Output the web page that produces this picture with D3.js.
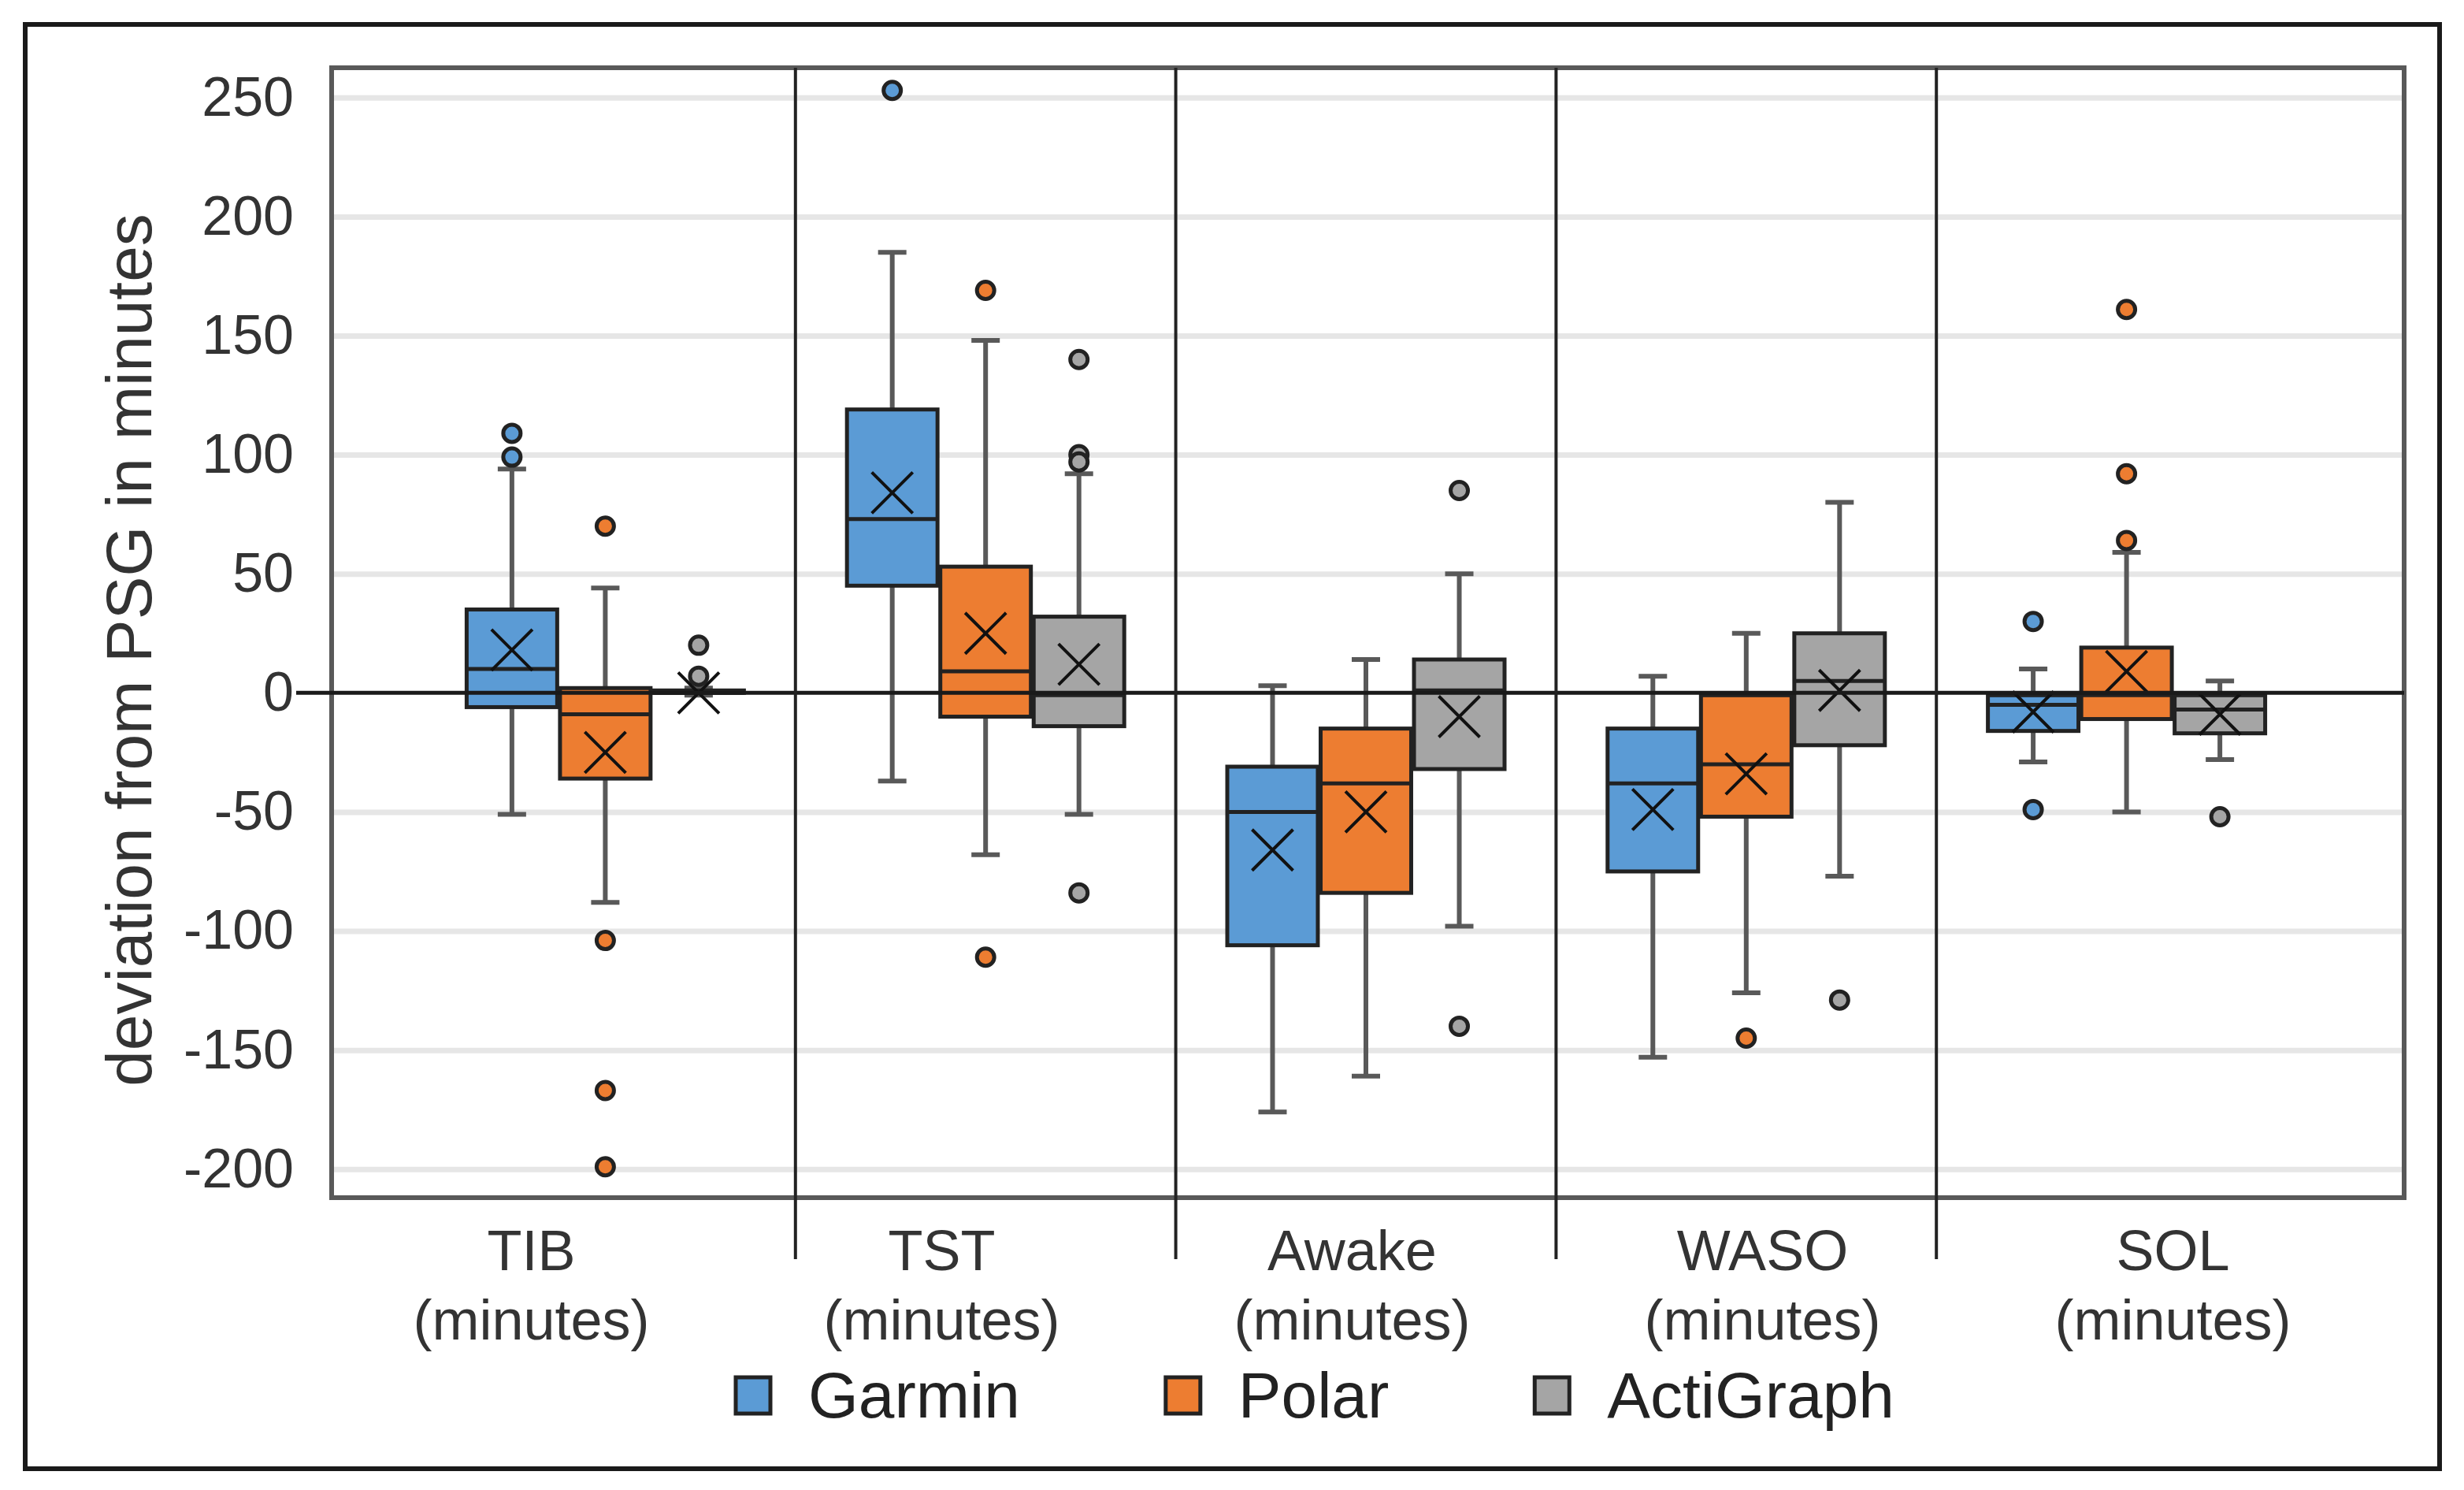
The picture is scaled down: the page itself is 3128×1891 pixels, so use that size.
<!DOCTYPE html>
<html>
<head>
<meta charset="utf-8">
<script src="https://cdnjs.cloudflare.com/ajax/libs/d3/7.8.5/d3.min.js"></script>
<style>
  body { margin: 0; background: #fff; }
  svg { display: block; font-family: "Liberation Sans", Arial, sans-serif; }
</style>
</head>
<body>
<svg id="chart"></svg>
<script>
// categories and labels
const categories = ["TIB", "TST", "Awake", "WASO", "SOL"];
const unitLabels = ["(minutes)", "(minutes)", "(minutes)", "(minutes)", "(minutes)"];
const series = ["Garmin", "Polar", "ActiGraph"];
const yTickValues = [-200, -150, -100, -50, 0, 50, 100, 150, 200, 250];
const yTickLabels = ["-200", "-150", "-100", "-50", "0", "50", "100", "150", "200", "250"];

// Garmin
const garminLow  = [-51, -37, -176, -153, -29];
const garminQ1   = [-6, 45, -106, -75, -16];
const garminMed  = [10, 73, -50, -38, -5];
const garminQ3   = [35, 119, -31, -15, -1];
const garminHigh = [94, 185, 3, 7, 10];
const garminMean = [18, 84, -66, -49, -8];
const garminOut  = [[99, 109], [253], [], [], [30, -49]];

// Polar
const polarLow  = [-88, -68, -161, -126, -50];
const polarQ1   = [-36, -10, -84, -52, -11];
const polarMed  = [-9, 9, -38, -30, -1];
const polarQ3   = [2, 53, -15, -1, 19];
const polarHigh = [44, 148, 14, 25, 59];
const polarMean = [-25, 25, -50, -34, 9];
const polarOut  = [[70, -104, -167, -199], [169, -111], [], [-145], [161, 92, 64]];

// ActiGraph
const actiLow  = [-1, -51, -98, -77, -28];
const actiQ1   = [0, -14, -32, -22, -17];
const actiMed  = [0, -1, 1, 5, -7];
const actiQ3   = [1, 32, 14, 25, -1];
const actiHigh = [2, 92, 50, 80, 5];
const actiMean = [0, 12, -10, 1, -9];
const actiOut  = [[20, 7], [140, 100, 97, -84], [85, -140], [-129], [-52]];

const colors = ["#5b9bd5", "#ed7d31", "#a5a5a5"];

const width = 3128;
const height = 1891;
const plot = { left: 421, top: 86, right: 3052, bottom: 1520 };

const svg = d3.select("#chart")
              .attr("width", width)
              .attr("height", height);

// outer frame
svg.append("rect")
   .attr("x", 32).attr("y", 31)
   .attr("width", 3065).attr("height", 1833)
   .attr("fill", "#fff")
   .attr("stroke", "#1a1a1a")
   .attr("stroke-width", 6);

const y = d3.scaleLinear()
            .domain([-212, 262.5])
            .range([plot.bottom, plot.top]);

const xGroup = d3.scaleBand()
                 .domain(categories)
                 .range([527, 2941]);

const xSeries = d3.scaleBand()
                  .domain(series)
                  .range([xGroup.bandwidth() / 2 - 176, xGroup.bandwidth() / 2 + 176])
                  .paddingInner(0.03);

const xLabel = d3.scaleBand()
                 .domain(categories)
                 .range([414, 3019]);

// gridlines
svg.append("g")
   .attr("transform", `translate(${plot.left}, 0)`)
   .call(d3.axisLeft(y)
           .tickValues(yTickValues.filter(v => v !== 0))
           .tickSize(-(plot.right - plot.left))
           .tickFormat(""))
   .call(g => g.select(".domain").remove())
   .selectAll("line")
   .attr("stroke", "#e6e6e6")
   .attr("stroke-width", 7);

// plot frame
svg.append("rect")
   .attr("x", plot.left).attr("y", plot.top)
   .attr("width", plot.right - plot.left)
   .attr("height", plot.bottom - plot.top)
   .attr("fill", "none")
   .attr("stroke", "#595959")
   .attr("stroke-width", 6);

// y axis labels
svg.append("g")
   .attr("transform", `translate(${plot.left}, 0)`)
   .call(d3.axisLeft(y)
           .tickValues(yTickValues)
           .tickFormat((d, i) => yTickLabels[i])
           .tickSize(0)
           .tickPadding(48))
   .call(g => g.select(".domain").remove())
   .attr("font-size", 70)
   .attr("font-family", null)
   .selectAll("text")
   .attr("fill", "#333");

// box data
const lows = [garminLow, polarLow, actiLow];
const q1s = [garminQ1, polarQ1, actiQ1];
const meds = [garminMed, polarMed, actiMed];
const q3s = [garminQ3, polarQ3, actiQ3];
const highs = [garminHigh, polarHigh, actiHigh];
const means = [garminMean, polarMean, actiMean];
const outs = [garminOut, polarOut, actiOut];

const boxes = [];
series.forEach((s, si) => {
    categories.forEach((c, ci) => {
        boxes.push({
            cat: c, series: s, si: si,
            low: lows[si][ci], q1: q1s[si][ci], med: meds[si][ci],
            q3: q3s[si][ci], high: highs[si][ci], mean: means[si][ci],
            out: outs[si][ci]
        });
    });
});

const cx = d => xGroup(d.cat) + xSeries(d.series) + xSeries.bandwidth() / 2;
const bw = xSeries.bandwidth();
const capW = 36;

const box = svg.append("g")
               .selectAll("g")
               .data(boxes)
               .enter()
               .append("g");

// whiskers
box.append("line")
   .attr("x1", cx).attr("x2", cx)
   .attr("y1", d => y(d.high)).attr("y2", d => y(d.low))
   .attr("stroke", "#595959").attr("stroke-width", 6);
box.append("line")
   .attr("x1", d => cx(d) - capW / 2).attr("x2", d => cx(d) + capW / 2)
   .attr("y1", d => y(d.high)).attr("y2", d => y(d.high))
   .attr("stroke", "#595959").attr("stroke-width", 6);
box.append("line")
   .attr("x1", d => cx(d) - capW / 2).attr("x2", d => cx(d) + capW / 2)
   .attr("y1", d => y(d.low)).attr("y2", d => y(d.low))
   .attr("stroke", "#595959").attr("stroke-width", 6);

// boxes
box.append("rect")
   .attr("x", d => cx(d) - bw / 2)
   .attr("width", bw)
   .attr("y", d => y(d.q3))
   .attr("height", d => Math.max(1, y(d.q1) - y(d.q3)))
   .attr("fill", d => colors[d.si])
   .attr("stroke", "#222")
   .attr("stroke-width", 5);

// medians
box.append("line")
   .attr("x1", d => cx(d) - bw / 2).attr("x2", d => cx(d) + bw / 2)
   .attr("y1", d => y(d.med)).attr("y2", d => y(d.med))
   .attr("stroke", "#222").attr("stroke-width", 5);

// outliers
box.selectAll("circle")
   .data(d => d.out.map(v => ({ v: v, d: d })))
   .enter()
   .append("circle")
   .attr("cx", o => cx(o.d))
   .attr("cy", o => y(o.v))
   .attr("r", 11)
   .attr("fill", o => colors[o.d.si])
   .attr("stroke", "#222")
   .attr("stroke-width", 5);

// zero line
svg.append("line")
   .attr("x1", 376).attr("x2", plot.right)
   .attr("y1", y(0)).attr("y2", y(0))
   .attr("stroke", "#1a1a1a")
   .attr("stroke-width", 5);

// mean markers
const ms = 26;
box.append("path")
   .attr("d", d => `M${cx(d) - ms},${y(d.mean) - ms}L${cx(d) + ms},${y(d.mean) + ms}M${cx(d) - ms},${y(d.mean) + ms}L${cx(d) + ms},${y(d.mean) - ms}`)
   .attr("stroke", "#111")
   .attr("stroke-width", 4)
   .attr("fill", "none");

// category separators
svg.append("g")
   .selectAll("line")
   .data(categories.slice(1))
   .enter()
   .append("line")
   .attr("x1", d => xGroup(d)).attr("x2", d => xGroup(d))
   .attr("y1", plot.top).attr("y2", 1598)
   .attr("stroke", "#222")
   .attr("stroke-width", 4);

// category labels
svg.append("g")
   .attr("transform", `translate(0, ${plot.bottom})`)
   .call(d3.axisBottom(xLabel).tickSize(0).tickPadding(0))
   .call(g => g.select(".domain").remove())
   .attr("font-size", 72)
   .attr("font-family", null)
   .selectAll(".tick text")
   .attr("dy", null)
   .attr("y", null)
   .attr("fill", "#333")
   .text(null)
   .each(function(d, i) {
       const t = d3.select(this);
       t.append("tspan").attr("x", 0).attr("y", 92).text(d);
       t.append("tspan").attr("x", 0).attr("y", 180).text(unitLabels[i]);
   });

// y axis title
svg.append("text")
   .attr("transform", "translate(192, 825) rotate(-90)")
   .attr("text-anchor", "middle")
   .attr("font-size", 82)
   .attr("fill", "#333")
   .text("deviation from PSG in minutes");

// legend
const legend = svg.append("g");
let lx = 934;
series.forEach((s, i) => {
    legend.append("rect")
          .attr("x", lx).attr("y", 1748)
          .attr("width", 44).attr("height", 46)
          .attr("fill", colors[i])
          .attr("stroke", "#222")
          .attr("stroke-width", 5);
    const t = legend.append("text")
                    .attr("x", lx + 92).attr("y", 1799)
                    .attr("font-size", 82)
                    .attr("fill", "#222")
                    .text(s);
    lx += 92 + t.node().getComputedTextLength() + 185;
});
</script>
</body>
</html>
